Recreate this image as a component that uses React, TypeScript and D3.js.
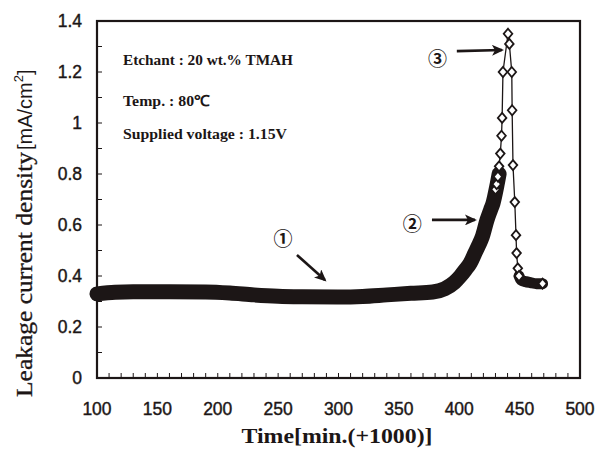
import * as React from "react";
import * as d3 from "d3";

const W = 598;
const H = 457;
const margin = {top: 21, right: 18, bottom: 79, left: 97};

const xTickValues = [100, 150, 200, 250, 300, 350, 400, 450, 500];
const yTickValues = [0, 0.2, 0.4, 0.6, 0.8, 1, 1.2, 1.4];
const yTickLabels = ["0", "0.2", "0.4", "0.6", "0.8", "1", "1.2", "1.4"];

// dense record before the breakdown (min, mA/cm2)
const steadyTime = [100, 115, 130, 160, 190, 210, 230, 250, 270, 300, 320, 340, 360, 378, 388, 396, 401, 405, 409, 413, 416, 419, 423, 426, 428, 431, 433];
const steadyValue = [0.330, 0.336, 0.338, 0.338, 0.337, 0.333, 0.326, 0.321, 0.319, 0.318, 0.320, 0.326, 0.332, 0.337, 0.350, 0.375, 0.400, 0.424, 0.450, 0.490, 0.520, 0.553, 0.620, 0.660, 0.686, 0.750, 0.800];

// sparse points around the peak
const peakTime = [430, 431, 432, 433, 434, 435, 435.5, 436.2, 440.4, 441.5, 443.5, 443.8, 444.5, 446, 447, 447.5, 448.5, 449.5];
const peakValue = [0.74, 0.76, 0.79, 0.83, 0.88, 0.95, 1.02, 1.2, 1.35, 1.31, 1.2, 1.05, 0.835, 0.69, 0.56, 0.49, 0.43, 0.40];

// dense record after the breakdown
const tailTime = [449.5, 451, 455, 459, 464, 469];
const tailValue = [0.40, 0.385, 0.378, 0.374, 0.370, 0.370];

const notes = [
  {label: "①", t: 254, v: 0.55},
  {label: "②", t: 361, v: 0.61},
  {label: "③", t: 382, v: 1.255},
];
const arrows = [
  {t1: 265.6, v1: 0.482, t2: 288.8, v2: 0.384},
  {t1: 377.4, v1: 0.62, t2: 413, v2: 0.62},
  {t1: 398, v1: 1.282, t2: 435.4, v2: 1.286},
];
const conditions = ["Etchant : 20 wt.% TMAH", "Temp. : 80℃", "Supplied voltage : 1.15V"];

const ink = "#1c1616";

export default function App() {
  const ref = React.useRef<SVGSVGElement>(null);

  React.useEffect(() => {
    const svg = d3.select(ref.current);
    svg.selectAll("*").remove();

    const x = d3.scaleLinear().domain([100, 500]).range([margin.left, W - margin.right]);
    const y = d3.scaleLinear().domain([0, 1.4]).range([H - margin.bottom, margin.top]);

    svg.append("defs").append("marker")
      .attr("id", "head")
      .attr("markerUnits", "userSpaceOnUse")
      .attr("markerWidth", 13).attr("markerHeight", 11)
      .attr("refX", 10).attr("refY", 5.5)
      .attr("orient", "auto")
      .append("path")
      .attr("d", "M0,0 L12,5.5 L0,11 L3,5.5 Z")
      .attr("fill", ink);

    // inward minor ticks
    const tickGroup = svg.append("g").attr("stroke", ink).attr("stroke-width", 1);
    tickGroup.selectAll(".xt").data(d3.range(100, 501, 10)).enter()
      .append("line")
      .attr("x1", d => x(d)).attr("x2", d => x(d))
      .attr("y1", y(0)).attr("y2", y(0) - 5);
    tickGroup.selectAll(".yt").data(d3.range(0, 15).map(i => i / 10)).enter()
      .append("line")
      .attr("y1", d => y(d)).attr("y2", d => y(d))
      .attr("x1", x(100)).attr("x2", x(100) + 5);

    // frame
    svg.append("rect")
      .attr("x", x(100)).attr("y", y(1.4))
      .attr("width", x(500) - x(100)).attr("height", y(0) - y(1.4))
      .attr("fill", "none").attr("stroke", ink).attr("stroke-width", 2.2);

    // tick labels
    svg.append("g").selectAll("text").data(xTickValues).enter()
      .append("text")
      .attr("x", d => x(d)).attr("y", 415)
      .attr("text-anchor", "middle")
      .attr("font-family", "Liberation Sans, Arial, sans-serif")
      .attr("font-size", 17.5)
      .attr("fill", ink).attr("stroke", ink).attr("stroke-width", 0.4)
      .text(d => d);
    svg.append("g").selectAll("text").data(yTickValues).enter()
      .append("text")
      .attr("x", 82).attr("y", d => y(d) + 6)
      .attr("text-anchor", "end")
      .attr("font-family", "Liberation Sans, Arial, sans-serif")
      .attr("font-size", 17.5)
      .attr("fill", ink).attr("stroke", ink).attr("stroke-width", 0.4)
      .text((d, i) => yTickLabels[i]);

    // axis titles
    svg.append("text")
      .attr("x", 337).attr("y", 443)
      .attr("text-anchor", "middle")
      .attr("font-family", "Liberation Serif, Times New Roman, serif")
      .attr("font-size", 22).attr("font-weight", "bold")
      .attr("textLength", 191).attr("lengthAdjust", "spacingAndGlyphs")
      .attr("fill", ink)
      .text("Time[min.(+1000)]");
    const yTitle = svg.append("g").attr("transform", "translate(32,397) rotate(-90)");
    yTitle.append("text")
      .attr("x", 0).attr("y", 0)
      .attr("font-family", "Liberation Serif, Times New Roman, serif")
      .attr("font-size", 23)
      .attr("textLength", 245).attr("lengthAdjust", "spacingAndGlyphs")
      .attr("fill", ink).attr("stroke", ink).attr("stroke-width", 0.3)
      .text("Leakage current density");
    const unit = yTitle.append("text")
      .attr("x", 247).attr("y", 0)
      .attr("font-family", "Liberation Sans, Arial, sans-serif")
      .attr("font-size", 20)
      .attr("fill", ink);
    unit.append("tspan").text("[mA/cm");
    unit.append("tspan").attr("dy", -9).attr("font-size", 13).text("2");
    unit.append("tspan").attr("dy", 9).text("]");

    // condition notes
    svg.append("g").selectAll("text").data(conditions).enter()
      .append("text")
      .attr("x", 123).attr("y", (d, i) => [65, 106, 139][i])
      .attr("font-family", "Liberation Serif, Times New Roman, serif")
      .attr("font-size", 15).attr("font-weight", "bold")
      .attr("textLength", (d, i) => [170, 87, 164][i]).attr("lengthAdjust", "spacingAndGlyphs")
      .attr("fill", ink)
      .text(d => d);

    // dense record as thick trace
    const dense = d3.line<number>()
      .x((d, i) => x(steadyTime[i]))
      .y(d => y(d))
      .curve(d3.curveMonotoneX);
    svg.append("path")
      .attr("d", dense(steadyValue))
      .attr("fill", "none").attr("stroke", ink)
      .attr("stroke-width", 15)
      .attr("stroke-linecap", "round").attr("stroke-linejoin", "round");

    const tail = d3.line<number>()
      .x((d, i) => x(tailTime[i]))
      .y(d => y(d))
      .curve(d3.curveMonotoneX);
    svg.append("path")
      .attr("d", tail(tailValue))
      .attr("fill", "none").attr("stroke", ink)
      .attr("stroke-width", 11)
      .attr("stroke-linecap", "round").attr("stroke-linejoin", "round");

    // peak points with diamonds
    const peakLine = d3.line<number>()
      .x((d, i) => x(peakTime[i]))
      .y(d => y(d));
    svg.append("path")
      .attr("d", peakLine(peakValue))
      .attr("fill", "none").attr("stroke", ink).attr("stroke-width", 1.3);
    const diamond = "M0,-5 L4.3,0 L0,5 L-4.3,0 Z";
    svg.append("g").selectAll("path").data(peakValue).enter()
      .append("path")
      .attr("d", diamond)
      .attr("transform", (d, i) => `translate(${x(peakTime[i])},${y(d)})`)
      .attr("fill", "#fff").attr("stroke", ink).attr("stroke-width", 1.8);
    svg.append("path")
      .attr("d", diamond)
      .attr("transform", `translate(${x(tailTime[tailTime.length - 1])},${y(tailValue[tailValue.length - 1])})`)
      .attr("fill", "#fff").attr("stroke", ink).attr("stroke-width", 1.8);

    // annotations
    svg.append("g").selectAll("line").data(arrows).enter()
      .append("line")
      .attr("x1", d => x(d.t1)).attr("y1", d => y(d.v1))
      .attr("x2", d => x(d.t2)).attr("y2", d => y(d.v2))
      .attr("stroke", ink).attr("stroke-width", 2.6)
      .attr("marker-end", "url(#head)");
    svg.append("g").selectAll("text").data(notes).enter()
      .append("text")
      .attr("x", d => x(d.t)).attr("y", d => y(d.v))
      .attr("text-anchor", "middle").attr("dominant-baseline", "central")
      .attr("font-family", "Noto Sans CJK JP, DejaVu Sans, sans-serif")
      .attr("font-size", 19).attr("font-weight", "bold")
      .attr("fill", ink)
      .text(d => d.label);
  }, []);

  return <svg ref={ref} width={W} height={H}
              style={{position: "absolute", left: 0, top: 0, background: "#fff"}}/>;
}
